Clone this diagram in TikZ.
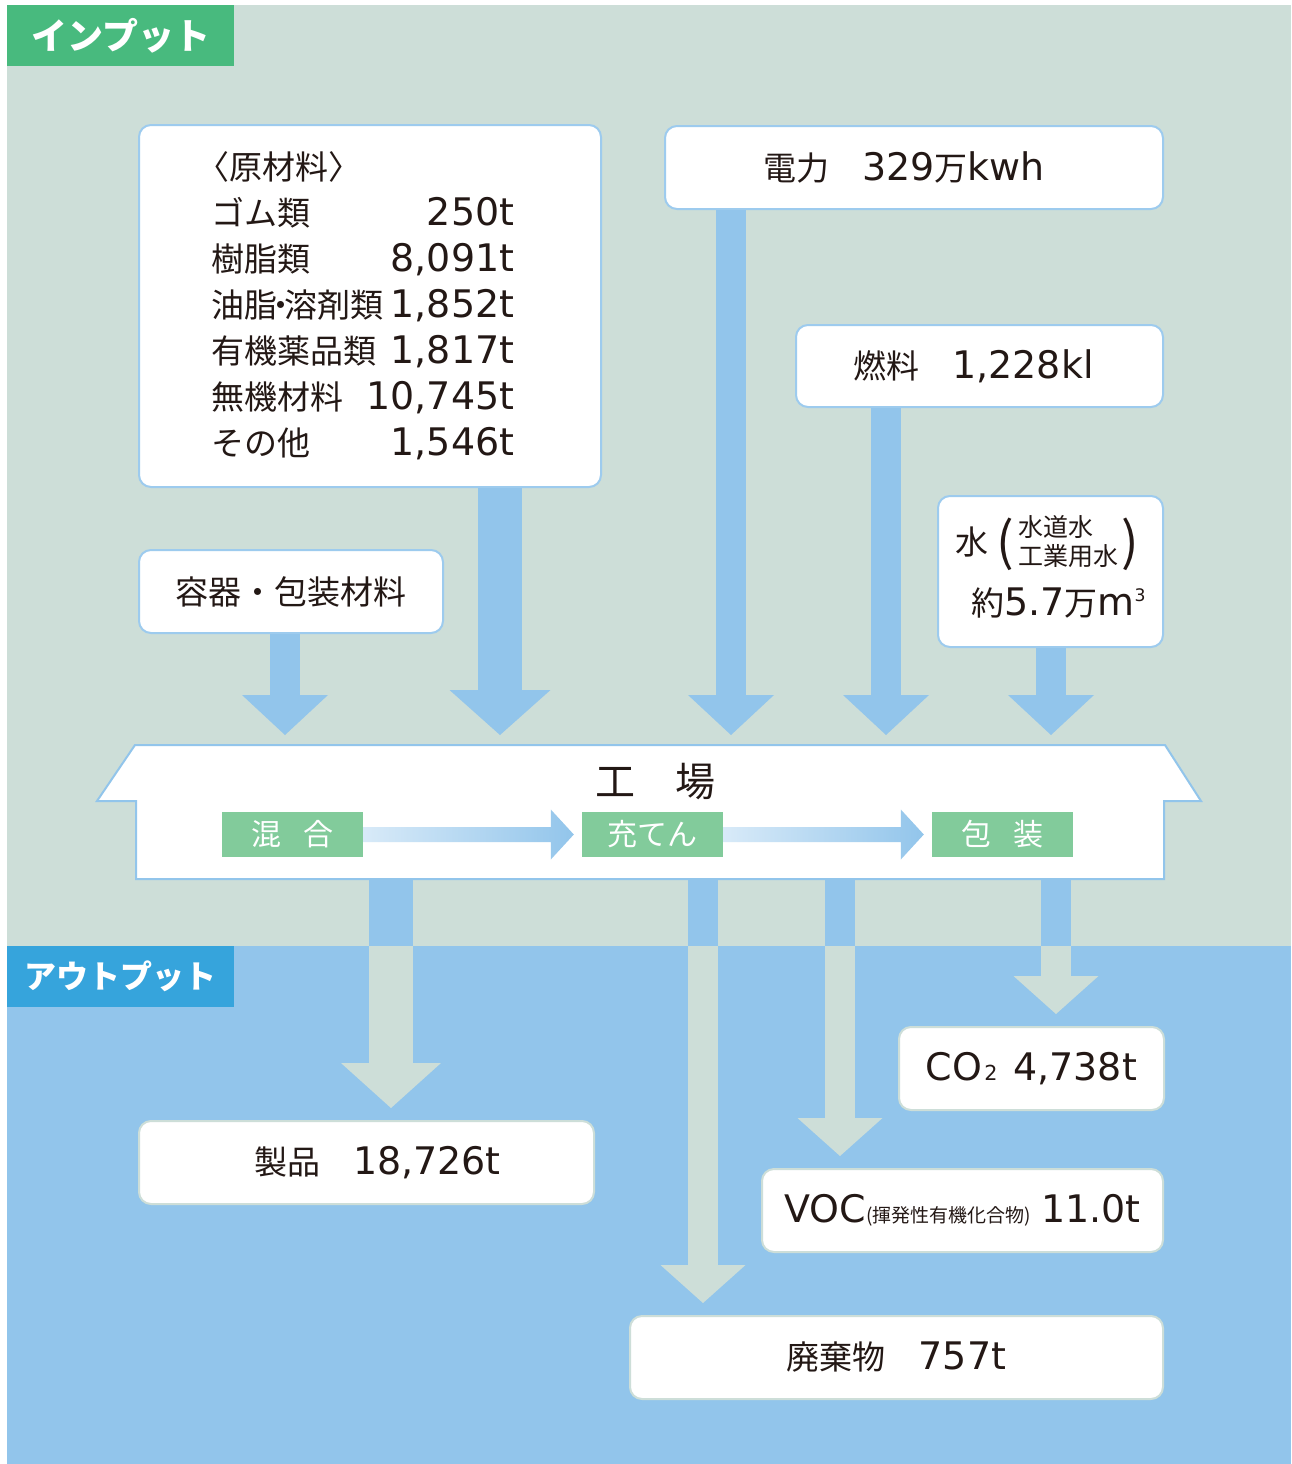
\documentclass[tikz,border=0pt]{standalone}
\usepackage{fontspec}
\setmainfont{Noto Sans CJK JP}
\newfontfamily\latn[Scale=1.15]{DejaVu Sans}
\newcommand\nm[1]{{\latn #1}}
\newcommand\matrow[2]{\makebox[303pt][l]{#1\hfill\nm{#2}}}
\newcommand\bigparen[1]{\raisebox{-6pt}{\fontsize{52}{52}\selectfont #1}}
\usetikzlibrary{arrows.meta}

\definecolor{inbg}{HTML}{CDDED8}
\definecolor{outbg}{HTML}{92C5EB}
\definecolor{ingreen}{HTML}{48BA7E}
\definecolor{outblue}{HTML}{36A4DC}
\definecolor{arrowblue}{HTML}{92C5EB}
\definecolor{inedge}{HTML}{9DCBEE}
\definecolor{outedge}{HTML}{CDDED8}
\definecolor{procgreen}{HTML}{82CB9B}
\definecolor{gradlight}{HTML}{D8EAF8}
\definecolor{ink}{HTML}{231815}

\tikzset{
  inbox/.style={draw=inedge, line width=2pt, fill=white, rounded corners=12pt,
    inner sep=0pt, anchor=north west, text=ink, font=\fontsize{33}{40}\selectfont},
  outbox/.style={inbox, draw=outedge},
  tag/.style={fill=#1, text=white, inner sep=0pt, anchor=north west,
    minimum width=227pt, minimum height=61pt, font=\bfseries\fontsize{36}{36}\selectfont},
  proc/.style={fill=procgreen, text=white, inner sep=0pt, minimum width=141pt,
    minimum height=45pt, font=\fontsize{30}{30}\selectfont},
  bigin/.style={line width=44pt, draw=arrowblue,
    -{Triangle[length=45pt, width=101pt, line width=0pt]}},
  smallin/.style={line width=30pt, draw=arrowblue,
    -{Triangle[length=40pt, width=86pt, line width=0pt]}},
  bigout/.style={line width=44pt, draw=inbg,
    -{Triangle[length=45pt, width=100pt, line width=0pt]}},
  smallout/.style={line width=30pt, draw=inbg,
    -{Triangle[length=38pt, width=85pt, line width=0pt]}},
}

\begin{document}
\begin{tikzpicture}[x=1pt, y=-1pt]
  \useasboundingbox (0,0) rectangle (1291,1464);
  \fill[inbg] (7,5) rectangle (1291,946);
  \fill[outbg] (7,946) rectangle (1291,1464);
  \coordinate (split) at (0,946);

  \node[tag=ingreen] (intag) at (7,5) {インプット};
  \node[tag=outblue, font=\bfseries\fontsize{32}{32}\selectfont] (outtag) at (7,946) {アウトプット};

  % input side
  \node[inbox, minimum width=462pt, minimum height=362pt] (mat) at (138,124) {};
  \node[anchor=north west, inner sep=0pt, text=ink, font=\fontsize{33}{46}\selectfont]
    (matlist) at (211,147) {\begin{tabular}{@{}l@{}}
      \hspace{-15pt}〈原材料〉\\
      \matrow{ゴム類}{250t}\\
      \matrow{樹脂類}{8,091t}\\
      \matrow{油脂\makebox[7pt]{・}溶剤類}{1,852t}\\
      \matrow{有機薬品類}{1,817t}\\
      \matrow{無機材料}{10,745t}\\
      \matrow{その他}{1,546t}
    \end{tabular}};
  \node[inbox, minimum width=304pt, minimum height=83pt] (cont) at (138,549) {容器・包装材料};
  \node[inbox, minimum width=498pt, minimum height=83pt] (power) at (664,125)
    {電力　\nm{329}万\nm{kwh}\kern20pt};
  \node[inbox, minimum width=367pt, minimum height=82pt] (fuel) at (795,324)
    {燃料　\nm{1,228kl}\kern12pt};
  \node[inbox, minimum width=225pt, minimum height=151pt] (water) at (937,495)
    {\begin{tabular}{@{}l@{}}
      水\hspace{8pt}\bigparen{(}\hspace{5pt}\raisebox{3pt}{\fontsize{25}{27}\selectfont
        \begin{tabular}[c]{@{}l@{}}水道水\\工業用水\end{tabular}}\hspace{3pt}\bigparen{)}\\[21pt]
      \hspace{16pt}約\nm{5.7}万\nm{m{\fontsize{15}{15}\selectfont\raisebox{14pt}{3}}}
    \end{tabular}};

  % factory
  \node[inner sep=0pt, outer sep=0pt, minimum width=1028pt, minimum height=134pt,
    anchor=north west] (fac) at (136,745) {};
  \draw[arrowblue, line width=2pt, fill=white] (97,801) -- (135,745) -- (1165,745)
    -- (1201,801) -- (1164,801) -- (1164,879) -- (136,879) -- (136,801) -- cycle;
  \node[text=ink, font=\fontsize{40}{40}\selectfont] (facname) at (655,782) {工　場};
  \node[proc] (mixing) at (292.5,834.5) {混\hspace{0.75em}合};
  \node[proc] (filling) at (652.5,834.5) {充てん};
  \node[proc] (packing) at (1002.5,834.5) {包\hspace{0.75em}装};

  \shade[left color=gradlight, right color=arrowblue]
    ([yshift=7.5pt]mixing.east) -- ([xshift=-31pt,yshift=7.5pt]filling.west)
    -- ([xshift=-31pt,yshift=25pt]filling.west) -- ([xshift=-8pt]filling.west)
    -- ([xshift=-31pt,yshift=-25pt]filling.west) -- ([xshift=-31pt,yshift=-7.5pt]filling.west)
    -- ([yshift=-7.5pt]mixing.east) -- cycle;
  \shade[left color=gradlight, right color=arrowblue]
    ([yshift=7.5pt]filling.east) -- ([xshift=-31pt,yshift=7.5pt]packing.west)
    -- ([xshift=-31pt,yshift=25pt]packing.west) -- ([xshift=-8pt]packing.west)
    -- ([xshift=-31pt,yshift=-25pt]packing.west) -- ([xshift=-31pt,yshift=-7.5pt]packing.west)
    -- ([yshift=-7.5pt]filling.east) -- cycle;

  % arrows into the factory
  \draw[smallin, shorten >=10pt] (cont.south -| 285,0) -- (285,0 |- fac.north);
  \draw[bigin, shorten >=10pt] (mat.south -| 500,0) -- (500,0 |- fac.north);
  \draw[smallin, shorten >=10pt] (power.south -| 731,0) -- (731,0 |- fac.north);
  \draw[smallin, shorten >=10pt] (fuel.south -| 886,0) -- (886,0 |- fac.north);
  \draw[smallin, shorten >=10pt] (water.south -| 1051,0) -- (1051,0 |- fac.north);

  % output side
  \node[outbox, minimum width=455pt, minimum height=83pt] (prod) at (138,1120)
    {\hspace{22pt}製品　\nm{18,726t}};
  \node[outbox, minimum width=265pt, minimum height=83pt] (co2) at (898,1026)
    {\nm{CO{\fontsize{18}{18}\selectfont\hspace{2pt}2}}\hspace{16pt}\nm{4,738t}};
  \node[outbox, minimum width=401pt, minimum height=83pt] (voc) at (761,1168)
    {\nm{VOC}{\fontsize{19}{19}\selectfont (揮発性有機化合物)}\hspace{10pt}\nm{11.0t}};
  \node[outbox, minimum width=533pt, minimum height=83pt] (waste) at (629,1315) {廃棄物　\nm{757t}};

  \draw[bigout, shorten >=12pt] (391,0 |- fac.south) -- (391,0 |- prod.north);
  \draw[smallout, shorten >=12pt] (703,0 |- fac.south) -- (703,0 |- waste.north);
  \draw[smallout, shorten >=12pt] (840,0 |- fac.south) -- (840,0 |- voc.north);
  \draw[smallout, shorten >=12pt] (1056,0 |- fac.south) -- (1056,0 |- co2.north);

  \draw[arrowblue, line width=44pt] (391,0 |- fac.south) -- (391,0 |- split);
  \draw[arrowblue, line width=30pt] (703,0 |- fac.south) -- (703,0 |- split);
  \draw[arrowblue, line width=30pt] (840,0 |- fac.south) -- (840,0 |- split);
  \draw[arrowblue, line width=30pt] (1056,0 |- fac.south) -- (1056,0 |- split);
\end{tikzpicture}
\end{document}
